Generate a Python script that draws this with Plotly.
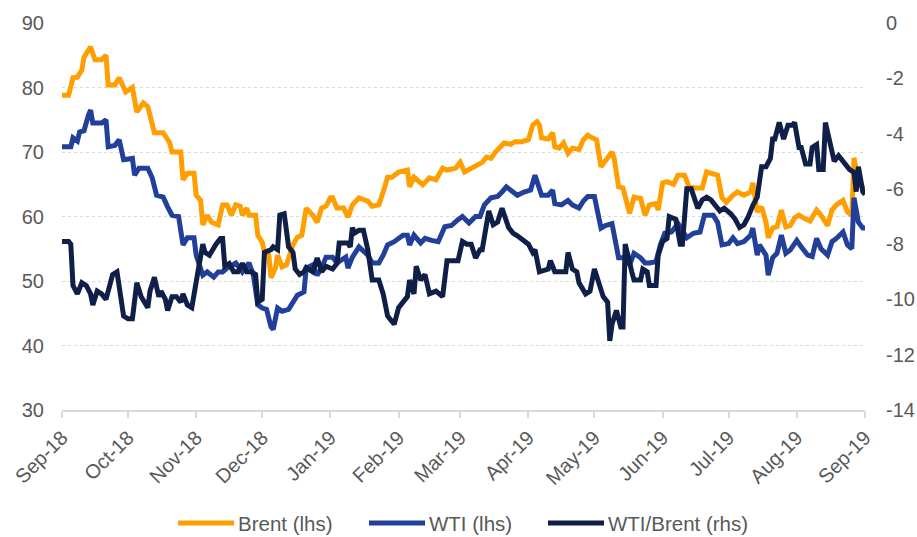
import plotly.graph_objects as go

# ---------------- data ----------------
brent_dates = [
    "2018-09-01", "2018-09-04", "2018-09-06", "2018-09-08", "2018-09-10", "2018-09-11", "2018-09-14",
    "2018-09-16", "2018-09-19", "2018-09-21", "2018-09-22", "2018-09-25", "2018-09-27", "2018-09-30",
    "2018-10-03", "2018-10-05", "2018-10-08", "2018-10-10", "2018-10-13", "2018-10-17", "2018-10-20",
    "2018-10-21", "2018-10-25", "2018-10-26", "2018-10-28", "2018-10-31", "2018-11-01", "2018-11-03",
    "2018-11-04", "2018-11-06", "2018-11-08", "2018-11-11", "2018-11-13", "2018-11-15", "2018-11-17",
    "2018-11-19", "2018-11-21", "2018-11-22", "2018-11-24", "2018-11-25", "2018-11-28", "2018-11-29",
    "2018-12-01", "2018-12-02", "2018-12-04", "2018-12-05", "2018-12-07", "2018-12-08", "2018-12-10",
    "2018-12-12", "2018-12-15", "2018-12-17", "2018-12-19", "2018-12-21", "2018-12-24", "2018-12-26",
    "2018-12-28", "2018-12-30", "2019-01-01", "2019-01-02", "2019-01-04", "2019-01-07", "2019-01-09",
    "2019-01-11", "2019-01-14", "2019-01-16", "2019-01-18", "2019-01-20", "2019-01-23", "2019-01-25",
    "2019-01-27", "2019-01-29", "2019-02-01", "2019-02-05", "2019-02-06", "2019-02-08", "2019-02-11",
    "2019-02-12", "2019-02-15", "2019-02-18", "2019-02-21", "2019-02-23", "2019-02-27", "2019-03-01",
    "2019-03-03", "2019-03-06", "2019-03-09", "2019-03-11", "2019-03-13", "2019-03-15", "2019-03-17",
    "2019-03-19", "2019-03-21", "2019-03-24", "2019-03-26", "2019-03-29", "2019-04-01", "2019-04-03",
    "2019-04-05", "2019-04-06", "2019-04-07", "2019-04-10", "2019-04-12", "2019-04-13", "2019-04-15",
    "2019-04-17", "2019-04-19", "2019-04-21", "2019-04-24", "2019-04-26", "2019-04-28", "2019-04-30",
    "2019-05-02", "2019-05-04", "2019-05-07", "2019-05-09", "2019-05-10", "2019-05-12", "2019-05-14",
    "2019-05-16", "2019-05-17", "2019-05-19", "2019-05-22", "2019-05-24", "2019-05-26", "2019-05-29",
    "2019-05-30", "2019-06-01", "2019-06-03", "2019-06-06", "2019-06-08", "2019-06-11", "2019-06-13",
    "2019-06-16", "2019-06-19", "2019-06-21", "2019-06-24", "2019-06-26", "2019-06-28", "2019-06-30",
    "2019-07-03", "2019-07-05", "2019-07-08", "2019-07-11", "2019-07-12", "2019-07-13", "2019-07-14",
    "2019-07-16", "2019-07-18", "2019-07-19", "2019-07-21", "2019-07-23", "2019-07-25", "2019-07-27",
    "2019-07-29", "2019-07-31", "2019-08-02", "2019-08-05", "2019-08-07", "2019-08-10", "2019-08-12",
    "2019-08-15", "2019-08-17", "2019-08-19", "2019-08-22", "2019-08-24", "2019-08-26", "2019-08-27",
    "2019-08-29", "2019-08-31", "2019-09-01",
]
brent_values = [
    78.8, 78.8, 81.5, 81.6, 82.7, 84.7, 86.3,
    84.3, 84.3, 85.0, 80.4, 80.4, 81.5, 79.3,
    80.0, 76.2, 77.6, 77.0, 73.0, 73.0, 71.4,
    70.0, 70.0, 65.7, 66.7, 66.7, 63.3, 62.5,
    58.7, 60.2, 59.1, 58.7, 61.8, 61.8, 60.2,
    61.8, 61.6, 60.2, 61.3, 60.2, 60.2, 57.1,
    56.0, 54.5, 54.0, 50.5, 52.0, 54.0, 52.2,
    52.5, 55.6, 56.8, 57.1, 61.3, 60.2, 59.1,
    61.3, 61.6, 62.9, 62.9, 61.3, 61.3, 59.9,
    61.8, 62.9, 62.6, 62.4, 61.6, 61.8, 63.8,
    66.1, 66.1, 66.9, 67.2, 64.6, 66.1, 65.2,
    64.9, 66.0, 65.7, 67.5, 67.2, 67.5, 68.4,
    66.9, 67.5, 68.0, 68.4, 69.2, 69.0, 70.0,
    70.6, 71.4, 71.2, 71.6, 71.6, 71.9, 74.2,
    74.7, 74.2, 72.2, 72.0, 73.0, 70.8, 70.6,
    71.4, 69.8, 70.6, 70.4, 71.9, 72.6, 72.2,
    71.9, 67.7, 69.1, 70.0, 69.0, 64.6, 64.4,
    61.3, 60.5, 63.0, 62.8, 60.2, 61.8, 62.0,
    61.0, 65.2, 65.4, 65.0, 66.4, 66.4, 64.6,
    64.4, 64.4, 66.9, 66.7, 66.4, 62.9, 62.2,
    63.3, 63.8, 63.3, 63.8, 65.2, 62.9, 60.7,
    61.5, 59.1, 56.7, 58.2, 58.4, 61.0, 58.4,
    58.6, 59.8, 60.2, 59.6, 59.3, 61.0, 60.2,
    58.6, 61.0, 61.8, 62.5, 60.7, 60.2, 69.1,
    65.3, 64.4, 64.4,
]

wti_dates = [
    "2018-09-01", "2018-09-05", "2018-09-06", "2018-09-08", "2018-09-09", "2018-09-11", "2018-09-13",
    "2018-09-14", "2018-09-15", "2018-09-19", "2018-09-21", "2018-09-22", "2018-09-25", "2018-09-27",
    "2018-09-29", "2018-10-03", "2018-10-04", "2018-10-06", "2018-10-10", "2018-10-12", "2018-10-14",
    "2018-10-17", "2018-10-19", "2018-10-21", "2018-10-24", "2018-10-26", "2018-10-28", "2018-10-31",
    "2018-11-01", "2018-11-04", "2018-11-06", "2018-11-09", "2018-11-11", "2018-11-13", "2018-11-15",
    "2018-11-19", "2018-11-22", "2018-11-25", "2018-11-27", "2018-11-29", "2018-12-01", "2018-12-03",
    "2018-12-05", "2018-12-06", "2018-12-08", "2018-12-10", "2018-12-13", "2018-12-15", "2018-12-17",
    "2018-12-20", "2018-12-21", "2018-12-24", "2018-12-26", "2018-12-28", "2018-12-30", "2019-01-02",
    "2019-01-04", "2019-01-08", "2019-01-09", "2019-01-11", "2019-01-14", "2019-01-18", "2019-01-20",
    "2019-01-23", "2019-01-25", "2019-01-27", "2019-01-30", "2019-02-03", "2019-02-05", "2019-02-06",
    "2019-02-08", "2019-02-11", "2019-02-13", "2019-02-16", "2019-02-19", "2019-02-22", "2019-02-25",
    "2019-02-28", "2019-03-02", "2019-03-05", "2019-03-08", "2019-03-10", "2019-03-12", "2019-03-15",
    "2019-03-18", "2019-03-20", "2019-03-22", "2019-03-25", "2019-03-27", "2019-03-30", "2019-04-02",
    "2019-04-04", "2019-04-05", "2019-04-07", "2019-04-10", "2019-04-12", "2019-04-13", "2019-04-16",
    "2019-04-19", "2019-04-21", "2019-04-24", "2019-04-26", "2019-04-28", "2019-05-01", "2019-05-04",
    "2019-05-06", "2019-05-09", "2019-05-12", "2019-05-15", "2019-05-17", "2019-05-19", "2019-05-22",
    "2019-05-24", "2019-05-26", "2019-05-29", "2019-05-31", "2019-06-02", "2019-06-05", "2019-06-08",
    "2019-06-10", "2019-06-12", "2019-06-15", "2019-06-18", "2019-06-20", "2019-06-24", "2019-06-26",
    "2019-06-28", "2019-07-01", "2019-07-03", "2019-07-05", "2019-07-08", "2019-07-11", "2019-07-12",
    "2019-07-14", "2019-07-15", "2019-07-18", "2019-07-19", "2019-07-21", "2019-07-23", "2019-07-25",
    "2019-07-27", "2019-07-29", "2019-08-01", "2019-08-03", "2019-08-06", "2019-08-08", "2019-08-10",
    "2019-08-12", "2019-08-15", "2019-08-17", "2019-08-19", "2019-08-22", "2019-08-24", "2019-08-26",
    "2019-08-27", "2019-08-29", "2019-08-31", "2019-09-01",
]
wti_values = [
    70.8, 70.8, 72.2, 71.7, 73.1, 73.3, 75.7,
    76.5, 74.5, 74.5, 75.0, 70.8, 71.0, 71.9,
    68.8, 69.0, 66.4, 67.5, 67.5, 66.0, 63.3,
    63.0, 61.5, 60.2, 60.0, 55.6, 56.7, 56.7,
    54.0, 50.9, 51.4, 50.6, 51.4, 51.4, 52.0,
    52.8, 51.4, 52.8, 50.9, 46.3, 45.8, 45.6,
    42.9, 42.5, 45.8, 45.3, 45.6, 46.7, 47.8,
    48.3, 52.0, 52.5, 50.9, 52.0, 53.7, 53.7,
    52.8, 53.7, 52.0, 53.7, 55.3, 54.0, 52.8,
    52.8, 54.0, 55.6, 56.1, 57.1, 57.1, 55.6,
    57.1, 55.9, 56.6, 56.3, 56.1, 58.4, 58.6,
    59.5, 60.0, 59.0, 60.0, 60.0, 61.8, 62.9,
    63.1, 63.8, 64.6, 63.8, 63.3, 63.8, 64.1,
    66.4, 65.4, 63.3, 63.3, 64.1, 62.0, 61.8,
    62.5, 61.8, 61.3, 62.4, 63.1, 63.1, 58.2,
    58.6, 58.9, 53.6, 53.6, 52.5, 54.3, 53.6,
    52.8, 52.8, 53.0, 55.6, 57.4, 57.6, 58.9,
    57.6, 56.7, 57.4, 57.6, 60.2, 60.2, 59.1,
    55.6, 55.8, 56.7, 55.8, 56.1, 57.1, 58.2,
    54.0, 55.6, 54.0, 50.9, 53.6, 54.3, 57.1,
    54.3, 54.8, 56.3, 55.3, 54.0, 53.8, 56.6,
    55.0, 54.0, 56.1, 56.6, 57.6, 55.6, 55.0,
    62.9, 59.1, 58.2, 58.2,
]

spread_dates = [
    "2018-09-01", "2018-09-04", "2018-09-05", "2018-09-06", "2018-09-08", "2018-09-10", "2018-09-12",
    "2018-09-14", "2018-09-15", "2018-09-17", "2018-09-19", "2018-09-21", "2018-09-22", "2018-09-24",
    "2018-09-26", "2018-09-27", "2018-09-29", "2018-10-01", "2018-10-03", "2018-10-05", "2018-10-07",
    "2018-10-10", "2018-10-11", "2018-10-13", "2018-10-15", "2018-10-16", "2018-10-18", "2018-10-19",
    "2018-10-21", "2018-10-23", "2018-10-25", "2018-10-26", "2018-10-28", "2018-10-30", "2018-10-31",
    "2018-11-02", "2018-11-04", "2018-11-05", "2018-11-07", "2018-11-09", "2018-11-10", "2018-11-12",
    "2018-11-13", "2018-11-14", "2018-11-16", "2018-11-18", "2018-11-20", "2018-11-22", "2018-11-24",
    "2018-11-26", "2018-11-28", "2018-11-29", "2018-12-01", "2018-12-02", "2018-12-05", "2018-12-06",
    "2018-12-08", "2018-12-09", "2018-12-11", "2018-12-13", "2018-12-15", "2018-12-16", "2018-12-18",
    "2018-12-20", "2018-12-21", "2018-12-24", "2018-12-26", "2018-12-28", "2018-12-30", "2019-01-02",
    "2019-01-04", "2019-01-05", "2019-01-09", "2019-01-10", "2019-01-11", "2019-01-12", "2019-01-14",
    "2019-01-16", "2019-01-18", "2019-01-20", "2019-01-23", "2019-01-25", "2019-01-27", "2019-01-28",
    "2019-01-30", "2019-02-01", "2019-02-03", "2019-02-05", "2019-02-06", "2019-02-08", "2019-02-09",
    "2019-02-11", "2019-02-13", "2019-02-15", "2019-02-18", "2019-02-21", "2019-02-23", "2019-02-25",
    "2019-02-28", "2019-03-02", "2019-03-04", "2019-03-06", "2019-03-08", "2019-03-10", "2019-03-11",
    "2019-03-14", "2019-03-16", "2019-03-18", "2019-03-20", "2019-03-23", "2019-03-25", "2019-03-27",
    "2019-03-30", "2019-04-01", "2019-04-03", "2019-04-04", "2019-04-06", "2019-04-10", "2019-04-11",
    "2019-04-13", "2019-04-15", "2019-04-18", "2019-04-19", "2019-04-21", "2019-04-23", "2019-04-24",
    "2019-04-27", "2019-04-29", "2019-05-01", "2019-05-04", "2019-05-05", "2019-05-07", "2019-05-08",
    "2019-05-09", "2019-05-11", "2019-05-13", "2019-05-14", "2019-05-15", "2019-05-16", "2019-05-18",
    "2019-05-19", "2019-05-22", "2019-05-23", "2019-05-25", "2019-05-26", "2019-05-29", "2019-05-30",
    "2019-06-01", "2019-06-03", "2019-06-04", "2019-06-07", "2019-06-09", "2019-06-10", "2019-06-12",
    "2019-06-14", "2019-06-17", "2019-06-19", "2019-06-21", "2019-06-23", "2019-06-25", "2019-06-27",
    "2019-06-29", "2019-07-02", "2019-07-04", "2019-07-06", "2019-07-08", "2019-07-10", "2019-07-12",
    "2019-07-14", "2019-07-16", "2019-07-18", "2019-07-20", "2019-07-21", "2019-07-22", "2019-07-24",
    "2019-07-26", "2019-07-28", "2019-07-30", "2019-07-31", "2019-08-02", "2019-08-03", "2019-08-05",
    "2019-08-07", "2019-08-08", "2019-08-10", "2019-08-11", "2019-08-13", "2019-08-14", "2019-08-16",
    "2019-08-18", "2019-08-20", "2019-08-23", "2019-08-25", "2019-08-27", "2019-08-28", "2019-08-29",
    "2019-08-31", "2019-09-01",
]
spread_values = [
    -7.9, -7.9, -8.0, -9.5, -9.8, -9.4, -9.5,
    -9.8, -10.2, -9.7, -9.8, -10.0, -9.7, -9.1,
    -9.0, -9.6, -10.6, -10.7, -10.7, -9.4, -9.9,
    -10.3, -9.7, -9.2, -9.9, -9.7, -10.0, -10.4,
    -9.9, -9.9, -10.1, -9.8, -10.2, -10.3, -9.9,
    -8.9, -8.0, -8.3, -8.4, -8.1, -8.0, -7.8,
    -7.8, -8.8, -8.7, -9.0, -9.0, -8.7, -9.0,
    -9.0, -9.1, -10.1, -10.0, -8.3, -8.2, -8.1,
    -8.2, -6.95, -6.9, -8.1, -8.3, -8.9, -9.1,
    -9.0, -8.85, -9.0, -8.5, -9.0, -8.8, -8.9,
    -8.7, -7.96, -7.96, -8.1, -7.4, -7.6, -7.5,
    -7.5, -8.2, -9.3, -9.3, -9.8, -10.6, -10.7,
    -10.9, -10.3, -10.1, -9.9, -9.3, -9.8, -8.8,
    -9.3, -9.1, -9.8, -9.7, -9.9, -8.6, -8.6,
    -8.6, -7.9, -8.0, -8.0, -8.5, -8.2, -8.2,
    -6.8, -7.3, -7.2, -6.7, -7.4, -7.6, -7.7,
    -7.9, -8.0, -8.3, -8.2, -9.0, -8.9, -8.6,
    -9.0, -9.0, -9.0, -8.3, -8.9, -9.0, -9.4,
    -9.8, -9.7, -8.9, -9.6, -9.9, -10.1, -11.5,
    -10.9, -10.4, -11.0, -11.0, -8.0, -8.4, -9.0,
    -9.3, -9.3, -8.9, -9.0, -9.5, -9.5, -8.4,
    -7.9, -7.8, -7.0, -7.1, -8.0, -8.0, -6.0,
    -6.0, -6.7, -6.4, -6.3, -6.4, -6.6, -6.8,
    -6.7, -6.9, -7.1, -7.4, -7.3, -7.0, -6.6,
    -6.3, -5.2, -5.2, -4.9, -4.2, -4.2, -3.6,
    -4.2, -3.7, -3.7, -3.6, -4.5, -4.5, -5.1,
    -5.1, -4.5, -4.4, -5.3, -5.3, -3.6, -4.4,
    -5.0, -4.8, -5.1, -5.3, -5.4, -6.1, -5.2,
    -6.1, -6.2,
]

left_ticks = [30, 40, 50, 60, 70, 80, 90]
right_ticks = [-14, -12, -10, -8, -6, -4, -2, 0]
right_tick_labels = ["-14", "-12", "-10", "-8", "-6", "-4", "-2", "0"]

series_names = ["Brent (lhs)", "WTI (lhs)", "WTI/Brent (rhs)"]
series_colors = ["#FF9E00", "#22409A", "#0F1F48"]

# ---------------- figure ----------------
FONT = "Liberation Sans, Arial, sans-serif"
GREY = "#595959"

fig = go.Figure()
fig.add_trace(go.Scatter(x=brent_dates, y=brent_values, name=series_names[0], mode="lines",
                         line=dict(color=series_colors[0], width=5)))
fig.add_trace(go.Scatter(x=wti_dates, y=wti_values, name=series_names[1], mode="lines",
                         line=dict(color=series_colors[1], width=5)))
fig.add_trace(go.Scatter(x=spread_dates, y=spread_values, name=series_names[2], mode="lines",
                         yaxis="y2", line=dict(color=series_colors[2], width=5)))

tick_font = dict(family=FONT, size=20, color=GREY)

# legend drawn below the plot (longer swatches than plotly's native legend allows)
legend_swatch_x = [(0.1445, 0.2142), (0.3823, 0.4521), (0.6052, 0.6750)]
legend_y = -0.292
shapes = []
annotations = []
for name, color, (x0, x1) in zip(series_names, series_colors, legend_swatch_x):
    shapes.append(dict(type="line", xref="paper", yref="paper", x0=x0, x1=x1,
                       y0=legend_y, y1=legend_y, line=dict(color=color, width=5)))
    annotations.append(dict(xref="paper", yref="paper", x=x1 + 0.002, y=legend_y,
                            xanchor="left", yanchor="middle", text=name, showarrow=False,
                            font=dict(family=FONT, size=20.5, color=GREY)))

fig.update_layout(
    width=917, height=537,
    margin=dict(l=62, r=52, t=23, b=127),
    paper_bgcolor="white", plot_bgcolor="white",
    font=dict(family=FONT, color=GREY),
    showlegend=False,
    hovermode=False,
    shapes=shapes,
    annotations=annotations,
    xaxis=dict(type="date", range=["2018-09-01", "2019-09-01"], tick0="2018-09-01", dtick="M1",
               tickformat="%b-%y", tickangle=-45, tickfont=tick_font, automargin=False,
               showgrid=False, zeroline=False, showline=True, linecolor="#D9D9D9", linewidth=2,
               ticks="outside", ticklen=6, tickcolor="#D9D9D9", tickwidth=2),
    yaxis=dict(range=[30, 90], tickvals=left_ticks, tickfont=tick_font, showgrid=True,
               gridcolor="#D9D9D9", griddash="dot", gridwidth=1, zeroline=False,
               ticklabelstandoff=17, automargin=False),
    yaxis2=dict(range=[-14, 0], tickvals=right_ticks, ticktext=right_tick_labels,
                overlaying="y", side="right", tickfont=tick_font,
                showgrid=False, zeroline=False, ticklabelstandoff=20, automargin=False),
)

fig.write_html("out.html", config={"displayModeBar": False},
               post_script="document.body.style.margin='0';")
